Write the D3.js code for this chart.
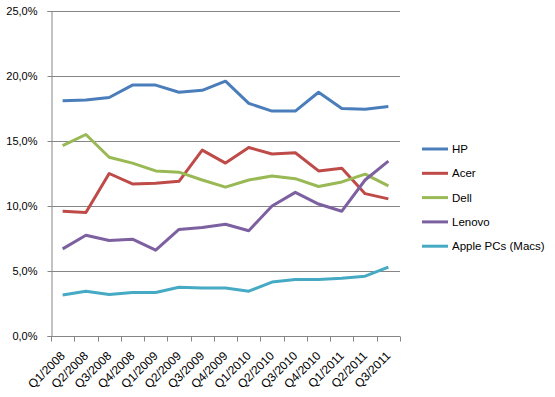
<!DOCTYPE html>
<html>
<head>
<meta charset="utf-8">
<script src="https://cdn.jsdelivr.net/npm/d3@7"></script>
<style>
  body { margin: 0; background: #fff; }
  text { font-family: "Liberation Sans", Arial, sans-serif; font-size: 11px; fill: #000; }
</style>
</head>
<body>
<div id="chart"></div>
<script>
// quarters on the x axis
var quarters = ["Q1/2008","Q2/2008","Q3/2008","Q4/2008","Q1/2009","Q2/2009","Q3/2009","Q4/2009",
                "Q1/2010","Q2/2010","Q3/2010","Q4/2010","Q1/2011","Q2/2011","Q3/2011"];

// market share per vendor (%)
var hp     = [18.1, 18.15, 18.35, 19.3, 19.3, 18.75, 18.9, 19.6, 17.9, 17.3, 17.3, 18.75, 17.5, 17.45, 17.65];
var acer   = [9.6, 9.5, 12.5, 11.7, 11.75, 11.9, 14.3, 13.3, 14.5, 14.0, 14.1, 12.7, 12.9, 10.95, 10.55];
var dell   = [14.65, 15.5, 13.75, 13.3, 12.7, 12.6, 12.0, 11.45, 12.0, 12.3, 12.1, 11.5, 11.85, 12.45, 11.55];
var lenovo = [6.7, 7.75, 7.35, 7.45, 6.6, 8.2, 8.35, 8.6, 8.1, 10.0, 11.05, 10.15, 9.6, 12.0, 13.45];
var apple  = [3.15, 3.45, 3.2, 3.35, 3.35, 3.75, 3.7, 3.7, 3.45, 4.15, 4.35, 4.35, 4.45, 4.6, 5.3];

var seriesNames = ["HP", "Acer", "Dell", "Lenovo", "Apple PCs (Macs)"];
var seriesValues = [hp, acer, dell, lenovo, apple];
var colors = ["#4A7EBB", "#BE4B48", "#98B954", "#7D60A0", "#46AAC5"];

var yTicks = [0, 5, 10, 15, 20, 25];

var margin = {top: 11, right: 155, bottom: 61, left: 51},
    width = 555 - margin.left - margin.right,
    height = 397 - margin.top - margin.bottom;

var svg = d3.select("#chart").append("svg")
    .attr("width", 555)
    .attr("height", 397)
  .append("g")
    .attr("transform", "translate(" + margin.left + "," + margin.top + ")");

var x = d3.scaleBand().domain(quarters).range([0, width]);
var y = d3.scaleLinear().domain([0, 25]).range([height, 0]);

// gridlines
svg.append("g")
    .selectAll("line")
    .data(yTicks.slice(1))
    .enter().append("line")
    .attr("x1", 0).attr("x2", width)
    .attr("y1", function(d) { return Math.round(y(d)) + 0.5; })
    .attr("y2", function(d) { return Math.round(y(d)) + 0.5; })
    .attr("stroke", "#868686");

// y axis
var yAxis = svg.append("g")
    .attr("transform", "translate(0.5,0)")
    .call(d3.axisLeft(y).tickValues(yTicks).tickSize(4).tickPadding(10)
      .tickFormat(function(d) { return d.toFixed(1).replace(".", ",") + "%"; }));
yAxis.select(".domain").attr("stroke", "#868686");
yAxis.selectAll(".tick line").attr("stroke", "#868686");
yAxis.selectAll("text").style("font-size", "11px");

// x axis with ticks at category boundaries
var xAxis = svg.append("g")
    .attr("transform", "translate(0," + (Math.round(height) + 0.5) + ")");
xAxis.append("line")
    .attr("x1", 0).attr("x2", width)
    .attr("stroke", "#868686");
xAxis.selectAll(".bt")
    .data(quarters.concat(["end"]))
    .enter().append("line")
    .attr("class", "bt")
    .attr("x1", function(d, i) { return Math.round(i * x.step()) + 0.5; })
    .attr("x2", function(d, i) { return Math.round(i * x.step()) + 0.5; })
    .attr("y1", 0).attr("y2", 5)
    .attr("stroke", "#868686");
xAxis.selectAll(".lbl")
    .data(quarters)
    .enter().append("text")
    .attr("class", "lbl")
    .attr("text-anchor", "end")
    .style("font-size", "12px")
    .attr("transform", function(d) {
      return "translate(" + (x(d) + x.bandwidth() / 2) + ",17) rotate(-45)";
    })
    .attr("dy", "0.35em")
    .text(function(d) { return d; });

// lines
var line = d3.line()
    .x(function(d, i) { return x(quarters[i]) + x.bandwidth() / 2; })
    .y(function(d) { return y(d); });

svg.selectAll(".series")
    .data(seriesValues)
    .enter().append("path")
    .attr("class", "series")
    .attr("fill", "none")
    .attr("stroke", function(d, i) { return colors[i]; })
    .attr("stroke-width", 3)
    .attr("stroke-linejoin", "round")
    .attr("d", line);

// legend
var legend = svg.append("g")
    .attr("transform", "translate(" + (width + 22) + ",138)");
var item = legend.selectAll(".item")
    .data(seriesNames)
    .enter().append("g")
    .attr("transform", function(d, i) { return "translate(0," + (i * 24.3) + ")"; });
item.append("line")
    .attr("x1", 0).attr("x2", 26)
    .attr("stroke", function(d, i) { return colors[i]; })
    .attr("stroke-width", 3);
item.append("text")
    .attr("x", 30)
    .attr("dy", "0.35em")
    .style("font-size", "11.5px")
    .text(function(d) { return d; });
</script>
</body>
</html>
